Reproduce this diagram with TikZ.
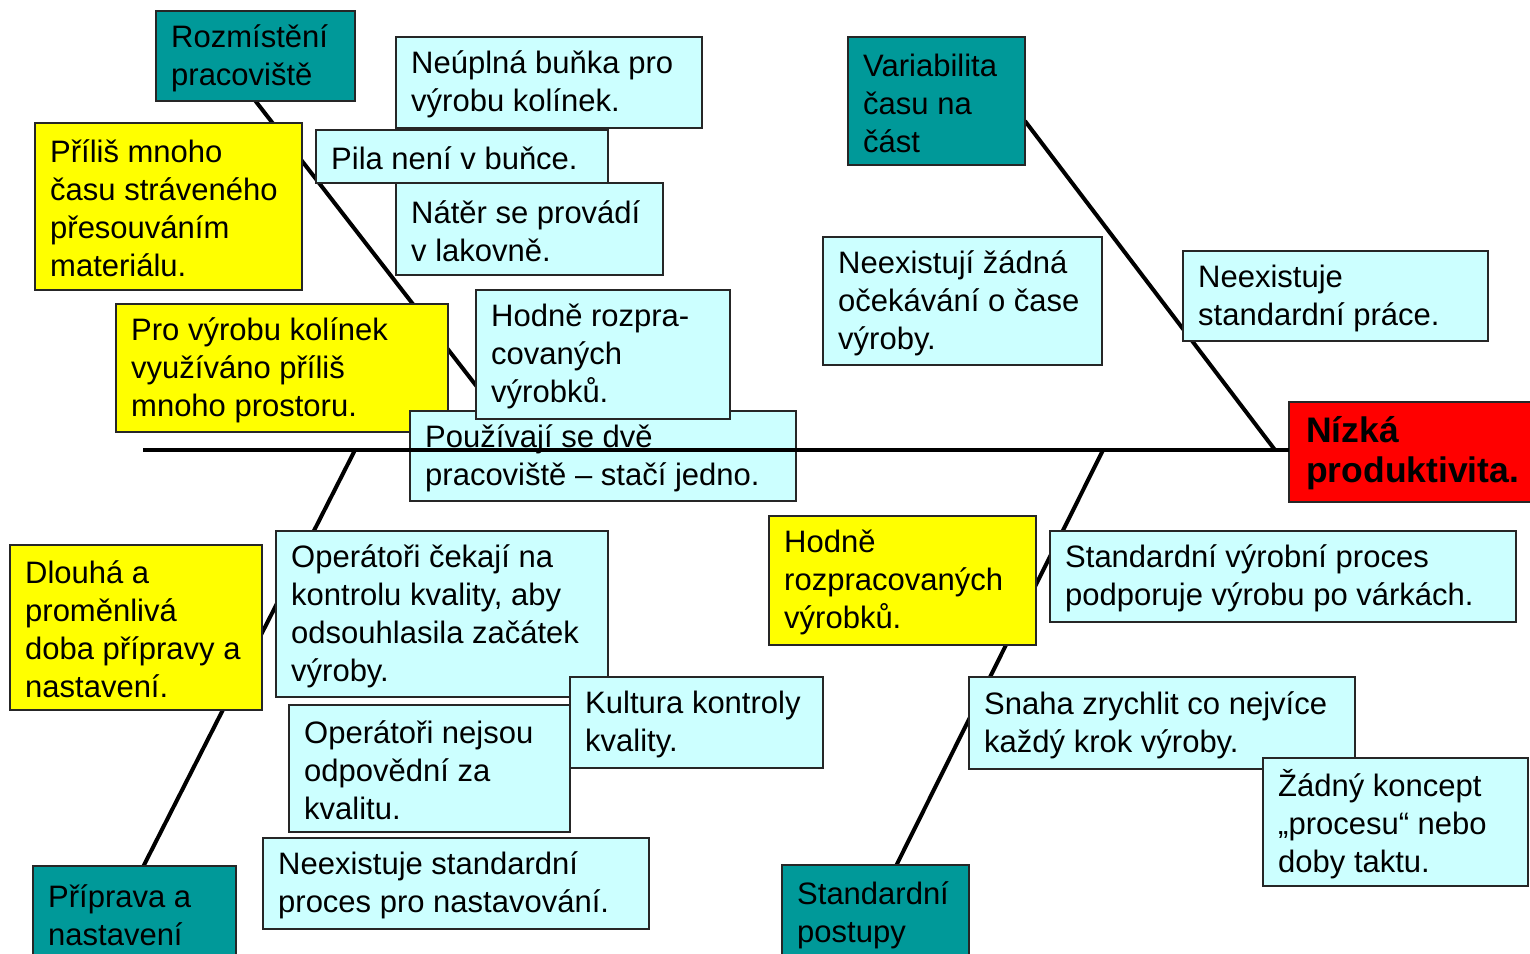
\documentclass[tikz,border=0pt]{standalone}
\usepackage{fontspec}
\setmainfont{Liberation Sans}

\definecolor{fbTeal}{RGB}{0,153,153}
\definecolor{fbCyan}{RGB}{204,255,255}
\definecolor{fbYellow}{RGB}{255,255,0}
\definecolor{fbRed}{RGB}{255,0,0}

\pgfdeclarelayer{bones}
\pgfdeclarelayer{spine}
\pgfsetlayers{bones,main,spine}

\tikzset{
  boxbase/.style={draw=black!85, line width=1.3pt, anchor=north west,
                  inner sep=0pt, outer sep=0pt},
  causebox/.style={boxbase, fill=fbCyan},
  keybox/.style={boxbase, fill=fbYellow},
  catbox/.style={boxbase, fill=fbTeal},
  effectbox/.style={boxbase, fill=fbRed},
  boxtext/.style={align=left, inner sep=0pt, anchor=west,
                  font=\fontsize{31}{38}\selectfont},
  effecttext/.style={align=left, inner sep=0pt, anchor=west,
                  font=\fontsize{35.5}{40}\selectfont\bfseries},
  bone/.style={line width=4pt, black},
}

% box with left-aligned text: name, style, x, y, width, height, text
\newcommand{\fishbox}[7]{%
  \node[#2, minimum width=#5pt, minimum height=#6pt] (#1) at (#3,#4) {};
  \node[boxtext] (#1-txt) at ([xshift=15pt, yshift=-2pt]#1.west) {#7};
}

\begin{document}
\begin{tikzpicture}[x=1pt, y=-1pt]
\clip (0,0) rectangle (1530,953);
\begin{pgfonlayer}{bones}
\fill[white] (0,0) rectangle (1530,953);
\end{pgfonlayer}

% category boxes
\fishbox{layout}{catbox}{156}{11}{199}{90}{Rozmístění\\pracoviště}
\fishbox{variab}{catbox}{848}{37}{177}{128}{Variabilita\\času na\\část}
\fishbox{setup}{catbox}{33}{866}{203}{95}{Příprava a\\nastavení}
\fishbox{stdpost}{catbox}{782}{865}{187}{96}{Standardní\\postupy}

% workplace layout causes
\fishbox{c1}{causebox}{396}{37}{306}{91}{Neúplná buňka pro\\výrobu kolínek.}
\fishbox{c2}{causebox}{316}{130}{292}{53}{Pila není v buňce.}
\fishbox{c3}{causebox}{396}{183}{267}{92}{Nátěr se provádí\\v lakovně.}
\fishbox{k1}{keybox}{35}{123}{267}{167}{Příliš mnoho\\času stráveného\\přesouváním\\materiálu.}
\fishbox{k2}{keybox}{116}{304}{332}{128}{Pro výrobu kolínek\\využíváno příliš\\mnoho prostoru.}
\fishbox{c5}{causebox}{410}{411}{386}{90}{Používají se dvě\\pracoviště – stačí jedno.}
\fishbox{c4}{causebox}{476}{290}{254}{129}{Hodně rozpra-\\covaných\\výrobků.}

% cycle time causes
\fishbox{c6}{causebox}{823}{237}{279}{128}{Neexistují žádná\\očekávání o čase\\výroby.}
\fishbox{c7}{causebox}{1183}{251}{305}{90}{Neexistuje\\standardní práce.}

% setup causes
\fishbox{k3}{keybox}{10}{545}{252}{165}{Dlouhá a\\proměnlivá\\doba přípravy a\\nastavení.}
\fishbox{c8}{causebox}{276}{531}{332}{166}{Operátoři čekají na\\kontrolu kvality, aby\\odsouhlasila začátek\\výroby.}
\fishbox{c10}{causebox}{289}{705}{281}{127}{Operátoři nejsou\\odpovědní za\\kvalitu.}
\fishbox{c9}{causebox}{570}{677}{253}{91}{Kultura kontroly\\kvality.}
\fishbox{c11}{causebox}{263}{838}{386}{91}{Neexistuje standardní\\proces pro nastavování.}

% standard procedure causes
\fishbox{k4}{keybox}{769}{516}{267}{129}{Hodně\\rozpracovaných\\výrobků.}
\fishbox{c12}{causebox}{1050}{531}{466}{91}{Standardní výrobní proces\\podporuje výrobu po várkách.}
\fishbox{c13}{causebox}{969}{677}{386}{92}{Snaha zrychlit co nejvíce\\každý krok výroby.}
\fishbox{c14}{causebox}{1263}{758}{265}{128}{Žádný koncept\\„procesu“ nebo\\doby taktu.}

% effect
\node[effectbox, minimum width=250pt, minimum height=100pt] (effect) at (1289,402) {};
\node[effecttext] (effect-txt) at ([xshift=17pt, yshift=-1pt]effect.west) {Nízká\\produktivita.};

% attachment points of the bones on the spine
\coordinate (spinestart) at (143,450);
\coordinate (jlayout) at (526,450);
\coordinate (jsetup) at (355,450);
\coordinate (jvariab) at (1275,450);
\coordinate (jstd) at (1103,450);

% bones, running behind the boxes
\begin{pgfonlayer}{bones}
\draw[bone] (layout.south) -- (jlayout);
\draw[bone] (jsetup) -- ([xshift=9pt]setup.north);
\draw[bone] ([yshift=-20pt]variab.east) -- (jvariab);
\draw[bone] (jstd) -- ([xshift=21pt]stdpost.north);
\end{pgfonlayer}

% spine, drawn over everything it crosses
\begin{pgfonlayer}{spine}
\draw[bone] (spinestart) -- (spinestart -| effect.west);
\end{pgfonlayer}
\end{tikzpicture}
\end{document}
